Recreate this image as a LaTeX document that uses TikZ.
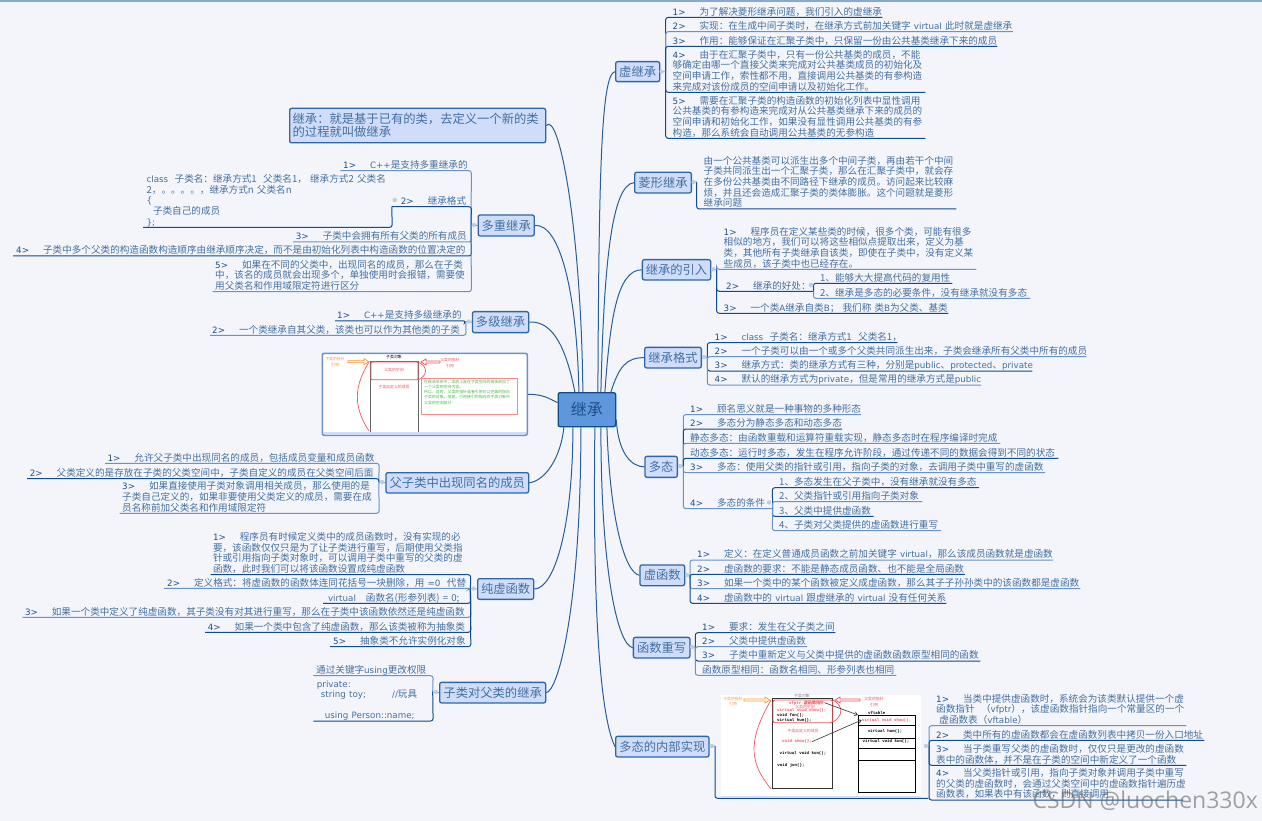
\documentclass[tikz,border=0pt]{standalone}
\usepackage{fontspec}
\setmainfont{Noto Sans CJK SC}
\newfontfamily\lat[Scale=0.91]{DejaVu Sans}
\newfontfamily\mono{Liberation Mono}
\newfontfamily\wm{Open Sans}
\usetikzlibrary{calc,arrows.meta}
\definecolor{bg}{HTML}{F3F5FB}
\definecolor{dk}{HTML}{104C8C}
\definecolor{lt}{HTML}{6A92C2}
\definecolor{tx}{HTML}{446F9F}
\definecolor{nm}{HTML}{1F4F88}
\definecolor{tf}{HTML}{CFDDFB}
\definecolor{tb}{HTML}{2F66A6}
\definecolor{cf}{HTML}{5F97DC}
\definecolor{redd}{HTML}{F0565E}
\newcommand\la[1]{{\lat #1}}
\newcommand\nn[1]{{\lat\color{nm}#1}\kern 14pt\relax}
\tikzset{
  topic/.style={draw=tb,fill=tf,line width=1.3pt,rounded corners=2pt,inner sep=0pt,text=tx,
     font=\fontsize{12.3}{15}\selectfont,anchor=north west},
  leaf/.style={inner sep=0pt,text=tx,align=left,anchor=south west,
     font=\fontsize{9.6}{10.6}\selectfont},
  elbow/.style={line width=1pt,rounded corners=2.5pt},
  branch/.style={draw=dk!90!white,line width=1pt},
  stub/.style={draw=lt,line width=.8pt},
  fold/.style={fill=lt!45!white},
  pz/.style={inner sep=0pt,font=\fontsize{3.9}{5.3}\selectfont},
  pm/.style={inner sep=0pt,font=\fontsize{4.1}{5}\selectfont\mono\bfseries}
}
\newcommand\leafR[8]{%
  \pgfmathsetmacro\WW{#4-#3}\pgfmathsetmacro\OO{#6-#3}%
  \node[leaf,minimum width=\WW pt,text width=\WW pt] (#1) at (#3,#5) {\hyphenpenalty=10000 \exhyphenpenalty=10000 \leftskip=\OO pt\relax #8\rule[-2pt]{0pt}{0pt}\par};
  \draw[elbow,#7] (#2) -- (#1.south west) -- (#1.south east);}
\newcommand\leafL[8]{%
  \pgfmathsetmacro\WW{#4-#3}\pgfmathsetmacro\OO{#6-#3}%
  \node[leaf,minimum width=\WW pt,text width=\WW pt] (#1) at (#3,#5) {\hyphenpenalty=10000 \exhyphenpenalty=10000 \leftskip=\OO pt\relax #8\rule[-2pt]{0pt}{0pt}\par};
  \draw[elbow,#7] (#2) -- (#1.south east) -- (#1.south west);}
\newcommand\topicnode[6]{%
  \pgfmathsetmacro\WW{#4-#2}\pgfmathsetmacro\HH{#5-#3}%
  \node[topic,minimum width=\WW pt,minimum height=\HH pt] (#1) at (#2,#3) {#6};}
\newcommand\hollow[4]{% x1 x2 y colour
  \pgfmathsetmacro\DD{(#2>#1)?-5:5}%
  \draw[#4,line width=.7pt,fill=white] (#1,#3-1) -- ({#2+\DD},#3-1) -- ({#2+\DD},#3-3) -- (#2,#3) -- ({#2+\DD},#3+3) -- ({#2+\DD},#3+1) -- (#1,#3+1) -- cycle;}
\begin{document}
\begin{tikzpicture}[x=1pt,y=-1pt]
\useasboundingbox (0,0) rectangle (1262,821);
\fill[bg] (0,0) rectangle (1262,821);
\fill[lt!80!white] (0,0) rectangle (1262,2);

% centre
\node[topic,draw=dk,fill=cf,text=nm,minimum width=57.5pt,minimum height=34pt,
  font=\fontsize{16}{18}\selectfont] (c) at (557.5,392) {继承};
% topics
\topicnode{t1}{615}{61}{659}{81}{虚继承}
\topicnode{t2}{634}{171.7}{690.7}{192.3}{菱形继承}
\topicnode{t3}{641.7}{259}{710}{279.3}{继承的引入}
\topicnode{t4}{644}{346.7}{700.7}{367.3}{继承格式}
\topicnode{t5}{644.3}{455.7}{676.7}{476.7}{多态}
\topicnode{t6}{639.3}{564.3}{684}{585}{虚函数}
\topicnode{t7}{632.7}{636.7}{689.3}{657.3}{函数重写}
\topicnode{t8}{615}{735.7}{708.3}{756.3}{多态的内部实现}
\node[topic,minimum width=256pt,minimum height=34.5pt,align=left,text width=250pt,inner xsep=3pt,
   font=\fontsize{12.3}{13}\selectfont] (l0) at (289,107.7) {继承：就是基于已有的类，去定义一个新的类\\的过程就叫做继承};
\topicnode{l1}{477.5}{214.3}{533.6}{235.3}{多重继承}
\topicnode{l2}{471.8}{311}{528}{332}{多级继承}
\topicnode{l3}{385.3}{472}{528}{492.3}{父子类中出现同名的成员}
\topicnode{l4}{477}{578}{533}{598.7}{纯虚函数}
\topicnode{l5}{439}{681.7}{545}{702.3}{子类对父类的继承}
% picture A frame (a topic)
\node[draw=lt,line width=1.6pt,fill=white,rounded corners=2pt,minimum width=205pt,minimum height=82pt,anchor=north west,inner sep=0pt] (pa) at (321.5,352.5) {};

% branches from the centre
\draw[branch] ($(c.north)+(11,0)$) .. controls +(1,-215) and +(-14,2) .. (t1.west);
\draw[branch] ($(c.north)+(14,0)$) .. controls +(3,-130) and +(-22,2) .. (t2.west);
\draw[branch] ($(c.north)+(18,0)$) .. controls +(5,-70) and +(-25,0) .. (t3.west);
\draw[branch] ($(c.north)+(24,0)$) .. controls +(8,-25) and +(-18,0) .. (t4.west);
\draw[branch] ($(c.east)+(0,10)$) .. controls +(2,35) and +(-12,0) .. (t5.west);
\draw[branch] ($(c.south)+(20,0)$) .. controls +(3,90) and +(-15,-3) .. (t6.west);
\draw[branch] ($(c.south)+(14,0)$) .. controls +(0,150) and +(-14,-2) .. (t7.west);
\draw[branch] ($(c.south)+(8,0)$) .. controls +(-3,230) and +(-10,-20) .. (t8.west);
\draw[branch] ($(c.north)+(-4,0)$) .. controls +(-2,-170) and +(12,-15) .. (l0.east);
\draw[branch] ($(c.north)+(-8,0)$) .. controls +(-2,-100) and +(25,-2) .. (l1.east);
\draw[branch] ($(c.north)+(-12,0)$) .. controls +(-8,-40) and +(25,-2) .. (l2.east);
\draw[branch] ($(c.west)+(0,-7)$) .. controls +(-10,-5) and +(14,0) .. (pa.east);
\draw[branch] ($(c.south)+(-23,0)$) .. controls +(-3,30) and +(16,-2) .. (l3.east);
\draw[branch] ($(c.south)+(-14,0)$) .. controls +(0,100) and +(20,0) .. (l4.east);
\draw[branch] ($(c.south)+(-6,0)$) .. controls +(0,180) and +(12,-2) .. (l5.east);

% ===== 虚继承
\coordinate (s1) at (665.7,71.7);
\leafR{a1}{s1}{665.7}{882}{17.3}{672.5}{dk}{\nn{1>}为了解决菱形继承问题，我们引入的虚继承}
\leafR{a2}{s1}{665.7}{1012.7}{31.7}{672.5}{lt}{\nn{2>}实现：在生成中间子类时，在继承方式前加关键字~\la{virtual}~此时就是虚继承}
\leafR{a3}{s1}{665.7}{997}{46.3}{672.5}{dk}{\nn{3>}作用：能够保证在汇聚子类中，只保留一份由公共基类继承下来的成员}
\leafR{a4}{s1}{665.7}{925}{92.3}{672.5}{dk}{\nn{4>}由于在汇聚子类中，只有一份公共基类的成员，不能\\够确定由哪一个直接父类来完成对公共基类成员的初始化及\\空间申请工作，索性都不用，直接调用公共基类的有参构造\\来完成对该份成员的空间申请以及初始化工作。}
\leafR{a5}{s1}{665.7}{925}{138.3}{672.5}{dk}{\nn{5>}需要在汇聚子类的构造函数的初始化列表中显性调用\\公共基类的有参构造来完成对从公共基类继承下来的成员的\\空间申请和初始化工作，如果没有显性调用公共基类的有参\\构造，那么系统会自动调用公共基类的无参构造}
\draw[stub] (t1.east) -- (s1); \fill[fold] (661.5,71.7) circle (2.2);
% ===== 菱形继承
\coordinate (s2) at (696.7,182);
\leafR{b1}{s2}{696.7}{956}{209}{703.5}{dk}{由一个公共基类可以派生出多个中间子类，再由若干个中间\\子类共同派生出一个汇聚子类，那么在汇聚子类中，就会存\\在多份公共基类由不同路径下继承的成员。访问起来比较麻\\烦，并且还会造成汇聚子类的类体膨胀。这个问题就是菱形\\继承问题}
\draw[stub] (t2.east) -- (s2); \fill[fold] (693.5,182) circle (2.2);
% ===== 继承的引入
\coordinate (s3) at (716.7,269.3);
\leafR{d1}{s3}{716.7}{976}{269.3}{723.5}{lt}{\nn{1>}程序员在定义某些类的时候，很多个类，可能有很多\\相似的地方，我们可以将这些相似点提取出来，定义为基\\类，其他所有子类继承自该类，即使在子类中，没有定义某\\些成员，该子类中也已经存在。}
\leafR{d2}{s3}{716.7}{813.3}{291.3}{726}{dk}{\nn{2>}继承的好处：}
\leafR{d3}{s3}{716.7}{948}{313.3}{723.5}{dk}{\nn{3>}一个类\la{A}继承自类\la{B}；~我们称~类\la{B}为父类、基类}
\leafR{d21}{d2.south east}{813.3}{952}{283.3}{820}{dk}{1、能够大大提高代码的复用性}
\leafR{d22}{d2.south east}{813.3}{1030}{298.3}{820}{lt}{2、继承是多态的必要条件，没有继承就没有多态}
\draw[stub] (t3.east) -- (s3); \fill[fold] (713.3,269.3) circle (2.2); \fill[fold] (811,285) circle (2.4);
% ===== 继承格式
\coordinate (s4) at (707.3,357);
\leafR{e1}{s4}{707.3}{897}{342.7}{714.5}{dk}{\nn{1>}\la{class}~~子类名：继承方式1~~父类名1，}
\leafR{e2}{s4}{707.3}{1086}{356.7}{714.5}{lt}{\nn{2>}一个子类可以由一个或多个父类共同派生出来，子类会继承所有父类中所有的成员}
\leafR{e3}{s4}{707.3}{1032}{371}{714.5}{dk}{\nn{3>}继承方式：类的继承方式有三种，分别是\la{public}、\la{protected}、\la{private}}
\leafR{e4}{s4}{707.3}{980.6}{385}{714.5}{lt}{\nn{4>}默认的继承方式为\la{private}，但是常用的继承方式是\la{public}}
\draw[stub] (t4.east) -- (s4); \fill[fold] (704,357) circle (2.2);
% ===== 多态
\coordinate (s5) at (683.3,466);
\leafR{f1}{s5}{683.3}{860.7}{414.7}{690}{lt}{\nn{1>}顾名思义就是一种事物的多种形态}
\leafR{f2}{s5}{683.3}{841.7}{429}{690}{dk}{\nn{2>}多态分为静态多态和动态多态}
\leafR{f3}{s5}{683.3}{1000}{443.3}{690}{lt}{静态多态：由函数重载和运算符重载实现，静态多态时在程序编译时完成}
\leafR{f4}{s5}{683.3}{1058}{458.3}{690}{dk}{动态多态：运行时多态，发生在程序允许阶段，通过传递不同的数据会得到不同的状态}
\leafR{f5}{s5}{683.3}{1044.7}{472.7}{690}{lt}{\nn{3>}多态：使用父类的指针或引用，指向子类的对象，去调用子类中重写的虚函数}
\leafR{f6}{s5}{683.3}{772.3}{508.7}{690}{lt}{\nn{4>}多态的条件}
\leafR{f61}{f6.south east}{772.3}{978.7}{487.7}{779}{dk}{1、多态发生在父子类中，没有继承就没有多态}
\leafR{f62}{f6.south east}{772.3}{921.7}{501.7}{779}{lt}{2、父类指针或引用指向子类对象}
\leafR{f63}{f6.south east}{772.3}{873.3}{516.3}{779}{dk}{3、父类中提供虚函数}
\leafR{f64}{f6.south east}{772.3}{940.7}{530.7}{779}{lt}{4、子类对父类提供的虚函数进行重写}
\draw[stub] (t5.east) -- (s5); \fill[fold] (680,466) circle (2.2); \fill[fold] (769,502.5) circle (2.2);
% ===== 虚函数
\coordinate (s6) at (690,575);
\leafR{g1}{s6}{690}{1052.7}{560}{697}{lt}{\nn{1>}定义：在定义普通成员函数之前加关键字~\la{virtual}，那么该成员函数就是虚函数}
\leafR{g2}{s6}{690}{964.7}{574.3}{697}{dk}{\nn{2>}虚函数的要求：不能是静态成员函数、也不能是全局函数}
\leafR{g3}{s6}{690}{1080}{588.7}{697}{lt}{\nn{3>}如果一个类中的某个函数被定义成虚函数，那么其子子孙孙类中的该函数都是虚函数}
\leafR{g4}{s6}{690}{946}{603.3}{697}{dk}{\nn{4>}虚函数中的~\la{virtual}~跟虚继承的~\la{virtual}~没有任何关系}
\draw[stub] (t6.east) -- (s6); \fill[fold] (687,575) circle (2.2);
% ===== 函数重写
\coordinate (s7) at (695.3,647);
\leafR{h1}{s7}{695.3}{835}{632.7}{702}{dk}{\nn{1>}要求：发生在父子类之间}
\leafR{h2}{s7}{695.3}{806.7}{646.7}{702}{lt}{\nn{2>}父类中提供虚函数}
\leafR{h3}{s7}{695.3}{980}{661}{702}{dk}{\nn{3>}子类中重新定义与父类中提供的虚函数函数原型相同的函数}
\leafR{h4}{s7}{695.3}{896}{675.3}{702}{lt}{函数原型相同：函数名相同、形参列表也相同}
\draw[stub] (t7.east) -- (s7); \fill[fold] (692,647) circle (2.2);
% ===== 多态的内部实现
\coordinate (s8) at (715,746);
\coordinate (s9) at (929,746);
\leafR{k0}{s8}{715}{928}{798.3}{721}{dk}{\rule{0pt}{100pt}}
\fill[white] (721,695) rectangle (921,797);
\fill[tf] (721,795.5) rectangle (921,797);
\leafR{k1}{s9}{929}{1186}{725.7}{936}{lt}{\nn{1>}当类中提供虚函数时，系统会为该类默认提供一个虚\\函数指针~~（\la{vfptr}），该虚函数指针指向一个常量区的一个\\~虚函数表（\la{vftable}）}
\leafR{k2}{s9}{929}{1204}{740.3}{936}{dk}{\nn{2>}类中所有的虚函数都会在虚函数列表中拷贝一份入口地址}
\leafR{k3}{s9}{929}{1186}{765.3}{936}{dk}{\nn{3>}当子类重写父类的虚函数时，仅仅只是更改的虚函数\\表中的函数体，并不是在子类的空间中新定义了一个函数}
\leafR{k4}{s9}{929}{1183}{800}{936}{dk}{\nn{4>}当父类指针或引用，指向子类对象并调用子类中重写\\的父类的虚函数时，会通过父类空间中的虚函数指针遍历虚\\函数表，如果表中有该函数，则直接调用}
\draw[stub] (t8.east) -- (s8); \fill[fold] (711.7,746) circle (2.2); \fill[fold] (926,746) circle (2.2);
% ===== 多重继承
\coordinate (s10) at (471,225);
\leafL{m1}{s10}{340.4}{471}{170.7}{343}{lt}{\nn{1>}\la{C++}是支持多重继承的}
\leafL{m2}{s10}{391.8}{471}{206.7}{400.7}{dk}{\nn{2>}继承格式}
\leafL{m21}{m2.south west}{143}{391.8}{227.3}{146.4}{dk}{\la{class}~~子类名：继承方式1~~父类名1，~继承方式2~父类名\\2，。。。。，继承方式n~父类名n\\\la{\{}\\~~子类自己的成员\\\la{\};}}
\leafL{m3}{s10}{293}{471}{242}{295.7}{lt}{\nn{3>}子类中会拥有所有父类的所有成员}
\leafL{m4}{s10}{13}{471}{256}{16}{dk}{\nn{4>}子类中多个父类的构造函数构造顺序由继承顺序决定，而不是由初始化列表中构造函数的位置决定的}
\leafL{m5}{s10}{212.5}{471}{291.7}{215}{lt}{\nn{5>}如果在不同的父类中，出现同名的成员，那么在子类\\中，该名的成员就会出现多个，单独使用时会报错，需要使\\用父类名和作用域限定符进行区分}
\draw[stub] (l1.west) -- (s10); \fill[fold] (474,225) circle (2.2); \fill[fold] (394.8,200) circle (2.2);
% ===== 多级继承
\coordinate (s11) at (465.7,321.5);
\leafL{n1}{s11}{335}{465.7}{321}{337}{dk}{\nn{1>}\la{C++}是支持多级继承的}
\leafL{n2}{s11}{210}{465.7}{335.3}{212}{lt}{\nn{2>}一个类继承自其父类，该类也可以作为其他类的子类}
\draw[stub] (l2.west) -- (s11); \fill[fold] (468.7,321.5) circle (2.2);
% ===== 父子类
\coordinate (s12) at (378.8,482);
\leafL{o1}{s12}{105}{378.8}{463.3}{107.4}{lt}{\nn{1>}允许父子类中出现同名的成员，包括成员变量和成员函数}
\leafL{o2}{s12}{27}{378.8}{478.7}{29.6}{dk}{\nn{2>}父类定义的是存放在子类的父类空间中，子类自定义的成员在父类空间后面}
\leafL{o3}{s12}{119.5}{378.8}{513.3}{122}{lt}{\nn{3>}如果直接使用子类对象调用相关成员，那么使用的是\\子类自己定义的，如果非要使用父类定义的成员，需要在成\\员名称前加父类名和作用域限定符}
\draw[stub] (l3.west) -- (s12); \fill[fold] (382,482) circle (2.2);
% ===== 纯虚函数
\coordinate (s13) at (470.4,588.5);
\leafL{q1}{s13}{210.7}{470.4}{574.7}{212.8}{dk}{\nn{1>}程序员有时候定义类中的成员函数时，没有实现的必\\要，该函数仅仅只是为了让子类进行重写，后期使用父类指\\针或引用指向子类对象时，可以调用子类中重写的父类的虚\\函数，此时我们可以将该函数设置成纯虚函数}
\leafL{q2}{s13}{164}{470.4}{588.3}{167}{lt}{\nn{2>}定义格式：将虚函数的函数体连同花括号一块删除，用~\la{=0}~~代替}
\leafL{q3}{s13}{323}{470.4}{603.3}{327.8}{dk}{\la{virtual}\kern10pt 函数名(形参列表)~=~0;}
\leafL{q4}{s13}{22.4}{470.4}{617.3}{24.8}{lt}{\nn{3>}如果一个类中定义了纯虚函数，其子类没有对其进行重写，那么在子类中该函数依然还是纯虚函数}
\leafL{q5}{s13}{205}{470.4}{632.3}{207.6}{dk}{\nn{4>}如果一个类中包含了纯虚函数，那么该类被称为抽象类}
\leafL{q6}{s13}{330}{470.4}{646.7}{333}{dk}{\nn{5>}抽象类不允许实例化对象}
\draw[stub] (l4.west) -- (s13); \fill[fold] (473.5,588.5) circle (2.2);
% ===== 子类对父类的继承
\coordinate (s14) at (432.7,692);
\leafL{r1}{s14}{313.3}{432.7}{675.7}{316}{lt}{通过关键字\la{using}更改权限}
\leafL{r2}{s14}{313.3}{432.7}{721}{316.7}{dk}{\la{private:}\\\hspace*{4pt}\la{string~toy;}\kern26pt\la{//}玩具\\\strut\\\hspace*{8pt}\la{using~Person::name;}}
\draw[stub] (l5.west) -- (s14); \fill[fold] (436,692) circle (2.2);

% ===== picture A content
\fill[tf] (323,431.6) rectangle (525.5,434);
\draw[gray!80!black,line width=.7pt] (370.3,361.3) -- (370.3,431.7) (418.3,361.3) -- (418.3,431.7) (370.3,361.3) -- (418.3,361.3);
\draw[redd,line width=.9pt,rounded corners=1pt] (371,362) rectangle (418,379.7);
\draw[redd,line width=.7pt] (369,362) .. controls (355,385) and (352,405) .. (369,431);
\draw[redd,line width=.7pt] (418,362) .. controls (429,367) and (427,376) .. (418,380);
\hollow{348}{369}{361.7}{orange!80!white}
\hollow{440}{421}{362}{redd}
\draw[redd!70!white,line width=.8pt] (421.7,378.3) rectangle (517,414.3);
\node[pz,text=orange!80!white,align=center] (a1l) at (335,362) {子类的指针\\引用};
\node[pz,text=redd,align=center] (a2l) at (450,363) {父类的指针\\引用};
\node[pz,text=black] (a3l) at (394,357) {子类对象};
\node[pz,text=redd] (a4l) at (394,370) {父类的空间};
\node[pz,text=redd] (a5l) at (394,387) {子类自定义的成员};
\node[pz,text=green!60!black!70!white,align=left,anchor=north west] (a6l) at (424,379.5) {在继承关系中，本质上是在子类空间的继承前加了\\一个父类的空间内容。\\所以，这时，父类的指针或者引用可以完美的指向\\子类的对象。但是，引用接引的指向的子类对象中\\父类的空间部分};

% ===== picture B content
\draw[black!80,line width=.8pt] (772.7,698.7) rectangle (832.7,788.7);
\draw[redd,line width=.9pt,rounded corners=2pt] (773,700) rectangle (832.7,722.7);
\draw[redd,line width=.7pt] (771,700) .. controls (745,745) and (752,765) .. (771,789);
\draw[redd,line width=.7pt] (833,700) .. controls (844,706) and (843,716) .. (833,722);
\hollow{744}{770}{700}{orange!80!white}
\hollow{860}{835}{700}{redd}
\draw[black,line width=.8pt] (858.3,715.3) rectangle (915,792);
\draw[black,line width=.7pt] (858.3,725.3) -- (915,725.3) (858.3,738) -- (915,738) (858.3,748) -- (915,748) (858.3,760) -- (915,760);
\node[pz,text=orange!80!white,align=center] (b1l) at (733,701.5) {子类的指针\\引用};
\node[pz,text=redd,align=center] (b2l) at (874,702) {父类的指针\\引用};
\node[pz,text=gray] (b3l) at (802,696) {子类对象};
\node[pm,text=redd] (b4l) at (806.7,702.7) {vfptr~\fontspec{Noto Sans CJK SC}虚函数指针};
\node[pz,text=redd] (b5l) at (805,706.7) {父类的空间};
\node[pm,text=redd,anchor=west] (b6l) at (777,710.3) {virtual void show();};
\node[pm,text=black,anchor=west] (b7l) at (777,715.7) {void fun();};
\node[pm,text=black,anchor=west] (b8l) at (777,720) {virtual hum();};
\node[pz,text=redd] (b9l) at (803,731.3) {子类自定义的成员};
\node[pm,text=redd] (b10l) at (797,741.7) {void show();};
\node[pm,text=black] (b11l) at (803,753) {virtual void kun();};
\node[pm,text=black] (b12l) at (791,765) {void jun();};
\node[pm,text=black] (b13l) at (876.7,712.7) {vftable};
\node[pm,text=redd] (b14l) at (886.7,720) {virtual void show();};
\node[pm,text=black] (b15l) at (885,731) {virtual hum();};
\node[pm,text=black] (b16l) at (886,741.7) {virtual void kun();};
\draw[black!80,line width=.6pt,-{Straight Barb[length=3pt,width=4pt]}] (b4l.east) -- (858,715);
\draw[black!80,line width=.6pt,-{Straight Barb[length=3pt,width=4pt]}] (b10l.east) -- (861.7,720);

% watermark
\node[inner sep=0pt,text=black!60,opacity=.6,font=\fontsize{23}{25}\selectfont\wm,anchor=east] (wm) at (1258,800.5) {CSDN @luochen330x};
\end{tikzpicture}
\end{document}
